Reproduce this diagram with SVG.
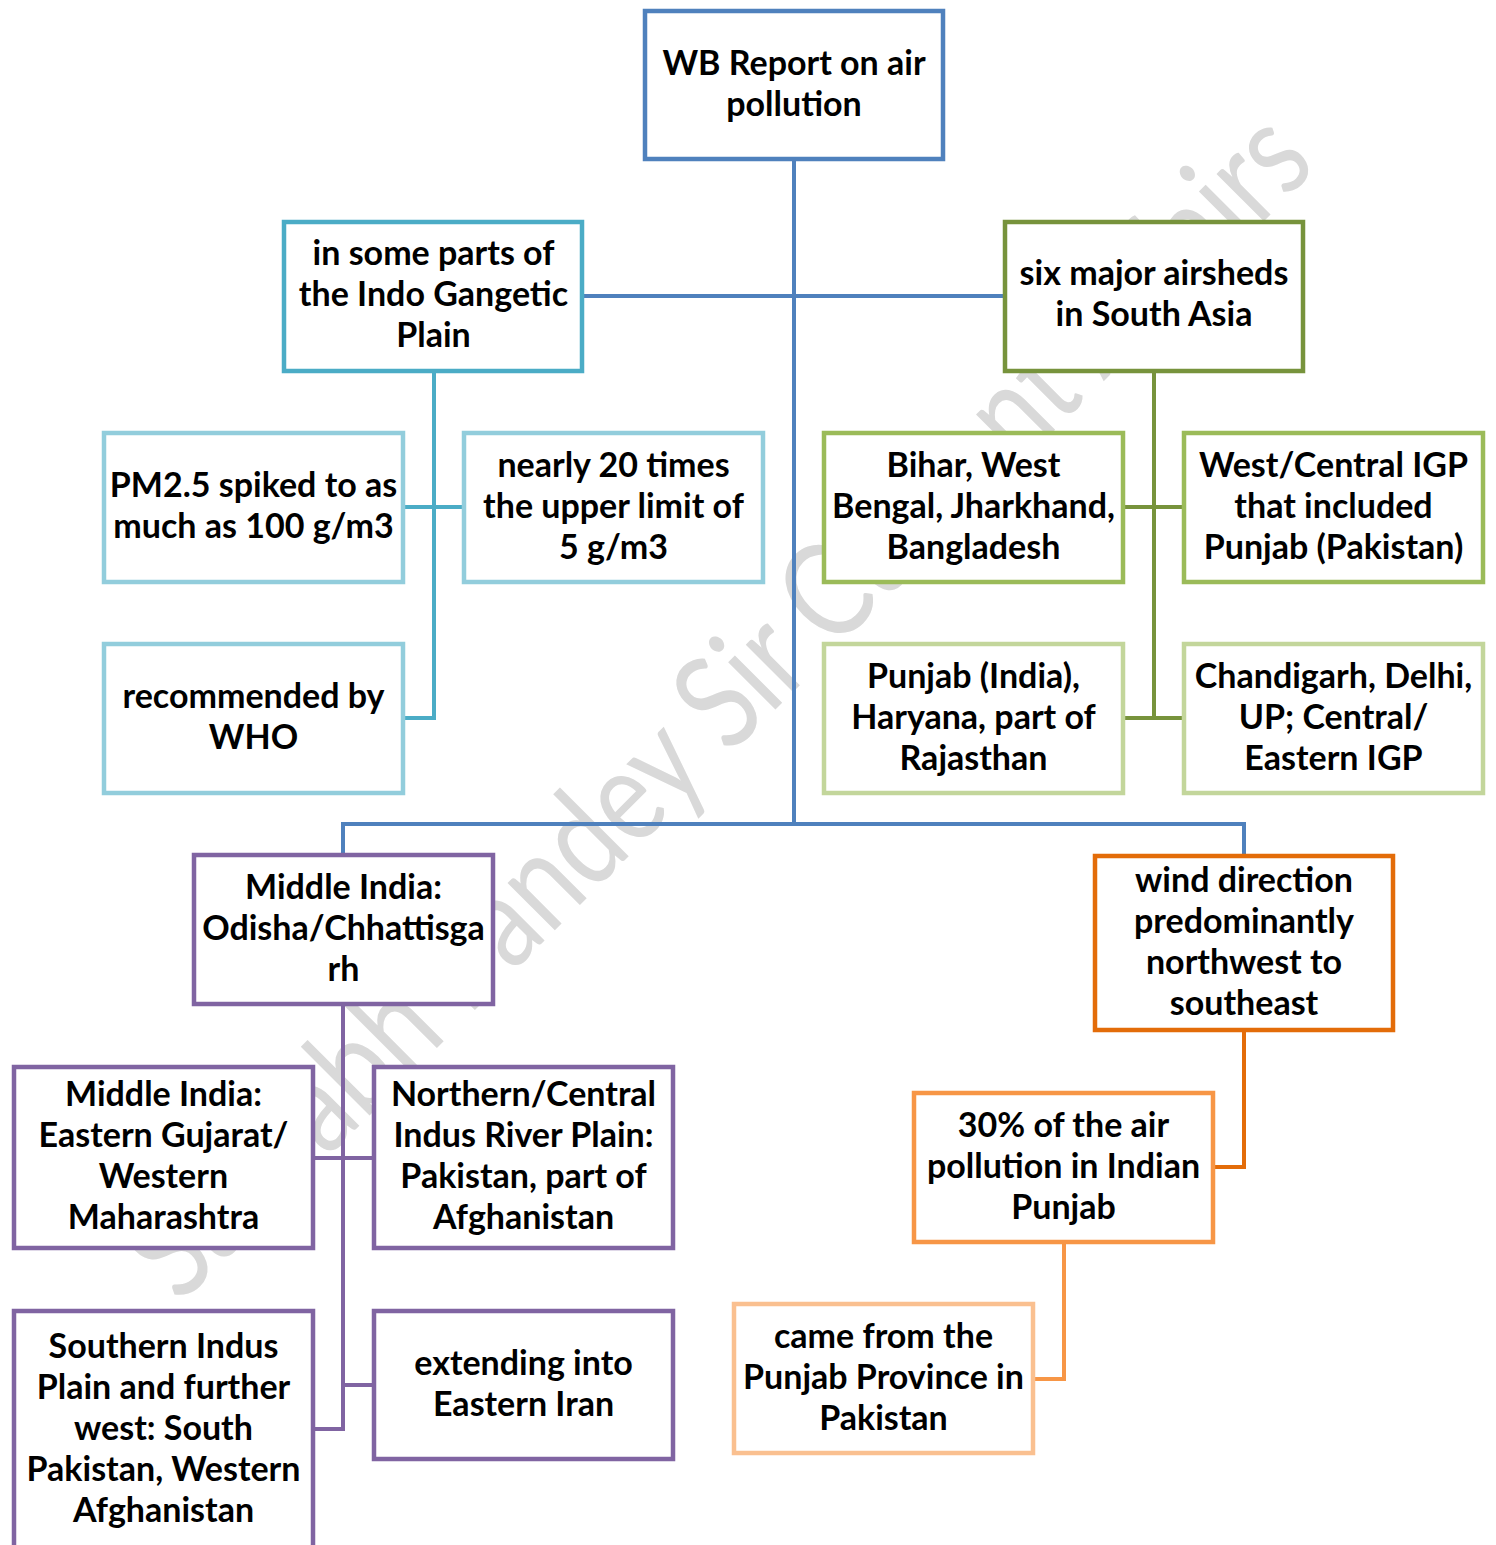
<svg xmlns="http://www.w3.org/2000/svg" width="1496" height="1545" viewBox="0 0 1496 1545">
<style>
.bg{fill:#ffffff}
.wm{font-family:Lato,"Liberation Sans",sans-serif;font-size:132px;fill:#d9d9d9}
.box{fill:#ffffff;stroke-width:4.5}
.t{font-family:Lato,"Liberation Sans",sans-serif;font-weight:bold;font-size:34px;fill:#000000;text-anchor:middle}
.ln{fill:none;stroke-width:4}
.blue{stroke:#4f81bd}.aqua{stroke:#4bacc6}.laqua{stroke:#92cddc}
.olive{stroke:#77933c}.green{stroke:#9bbb59}.lgreen{stroke:#c3d69b}
.purple{stroke:#8064a2}.or1{stroke:#e36c09}.or2{stroke:#f79646}.or3{stroke:#fac090}
</style>
<rect class="bg" x="0" y="0" width="1496" height="1545"/>
<text class="wm" transform="translate(180,1305) rotate(-45)" textLength="1610" lengthAdjust="spacingAndGlyphs">Saurabh Pandey Sir Current Affairs</text>
<g id="connectors">
<path class="ln blue" d="M794,159 V824 M582,296 H1005 M343,855 V824 H1244 V856"/>
<path class="ln aqua" d="M434,371 V718 H403 M403,507 H464"/>
<path class="ln olive" d="M1154,371 V718 M1123,507 H1184 M1123,718 H1184"/>
<path class="ln purple" d="M343,1004 V1429 H313 M313,1158 H374 M343,1385 H374"/>
<path class="ln or1" d="M1244,1030 V1167 H1213"/>
<path class="ln or2" d="M1064,1242 V1379 H1033"/>
</g>
<g id="n1"><rect class="box blue" x="645" y="11" width="298" height="148"/><text class="t" x="794"><tspan x="794" y="75">WB Report on air</tspan><tspan x="794" y="116">pollution</tspan></text></g>
<g id="n2"><rect class="box aqua" x="284" y="222" width="298" height="149"/><text class="t"><tspan x="433.5" y="265">in some parts of</tspan><tspan x="433.5" y="306">the Indo Gangetic</tspan><tspan x="433.5" y="347">Plain</tspan></text></g>
<g id="n3"><rect class="box olive" x="1005" y="222" width="298" height="149"/><text class="t"><tspan x="1154" y="285">six major airsheds</tspan><tspan x="1154" y="326">in South Asia</tspan></text></g>
<g id="n4"><rect class="box laqua" x="104" y="433" width="299" height="149"/><text class="t"><tspan x="253.5" y="497">PM2.5 spiked to as</tspan><tspan x="253.5" y="538">much as 100 g/m3</tspan></text></g>
<g id="n5"><rect class="box laqua" x="464" y="433" width="299" height="149"/><text class="t"><tspan x="613.5" y="477">nearly 20 times</tspan><tspan x="613.5" y="518">the upper limit of</tspan><tspan x="613.5" y="559">5 g/m3</tspan></text></g>
<g id="n6"><rect class="box laqua" x="104" y="644" width="299" height="149"/><text class="t"><tspan x="253.5" y="708">recommended by</tspan><tspan x="253.5" y="749">WHO</tspan></text></g>
<g id="n7"><rect class="box green" x="824" y="433" width="299" height="149"/><text class="t"><tspan x="973.5" y="477">Bihar, West</tspan><tspan x="973.5" y="518">Bengal, Jharkhand,</tspan><tspan x="973.5" y="559">Bangladesh</tspan></text></g>
<g id="n8"><rect class="box green" x="1184" y="433" width="299" height="149"/><text class="t"><tspan x="1333.5" y="477">West/Central IGP</tspan><tspan x="1333.5" y="518">that included</tspan><tspan x="1333.5" y="559">Punjab (Pakistan)</tspan></text></g>
<g id="n9"><rect class="box lgreen" x="824" y="644" width="299" height="149"/><text class="t"><tspan x="973.5" y="688">Punjab (India),</tspan><tspan x="973.5" y="729">Haryana, part of</tspan><tspan x="973.5" y="770">Rajasthan</tspan></text></g>
<g id="n10"><rect class="box lgreen" x="1184" y="644" width="299" height="149"/><text class="t"><tspan x="1333.5" y="688">Chandigarh, Delhi,</tspan><tspan x="1333.5" y="729">UP; Central/</tspan><tspan x="1333.5" y="770">Eastern IGP</tspan></text></g>
<g id="n11"><rect class="box purple" x="194" y="855" width="299" height="149"/><text class="t"><tspan x="343.5" y="899">Middle India:</tspan><tspan x="343.5" y="940">Odisha/Chhattisga</tspan><tspan x="343.5" y="981">rh</tspan></text></g>
<g id="n12"><rect class="box purple" x="14" y="1067" width="299" height="181"/><text class="t"><tspan x="163.5" y="1106">Middle India:</tspan><tspan x="163.5" y="1147">Eastern Gujarat/</tspan><tspan x="163.5" y="1188">Western</tspan><tspan x="163.5" y="1229">Maharashtra</tspan></text></g>
<g id="n13"><rect class="box purple" x="374" y="1067" width="299" height="181"/><text class="t"><tspan x="523.5" y="1106">Northern/Central</tspan><tspan x="523.5" y="1147">Indus River Plain:</tspan><tspan x="523.5" y="1188">Pakistan, part of</tspan><tspan x="523.5" y="1229">Afghanistan</tspan></text></g>
<g id="n14"><rect class="box purple" x="14" y="1311" width="299" height="240"/><text class="t"><tspan x="163.5" y="1358">Southern Indus</tspan><tspan x="163.5" y="1399">Plain and further</tspan><tspan x="163.5" y="1440">west: South</tspan><tspan x="163.5" y="1481">Pakistan, Western</tspan><tspan x="163.5" y="1522">Afghanistan</tspan></text></g>
<g id="n15"><rect class="box purple" x="374" y="1311" width="299" height="148"/><text class="t"><tspan x="523.5" y="1375">extending into</tspan><tspan x="523.5" y="1416">Eastern Iran</tspan></text></g>
<g id="n16"><rect class="box or1" x="1095" y="856" width="298" height="174"/><text class="t"><tspan x="1244" y="892">wind direction</tspan><tspan x="1244" y="933">predominantly</tspan><tspan x="1244" y="974">northwest to</tspan><tspan x="1244" y="1015">southeast</tspan></text></g>
<g id="n17"><rect class="box or2" x="914" y="1093" width="299" height="149"/><text class="t"><tspan x="1063.5" y="1137">30% of the air</tspan><tspan x="1063.5" y="1178">pollution in Indian</tspan><tspan x="1063.5" y="1219">Punjab</tspan></text></g>
<g id="n18"><rect class="box or3" x="734" y="1304" width="299" height="149"/><text class="t"><tspan x="883.5" y="1348">came from the</tspan><tspan x="883.5" y="1389">Punjab Province in</tspan><tspan x="883.5" y="1430">Pakistan</tspan></text></g>
</svg>
